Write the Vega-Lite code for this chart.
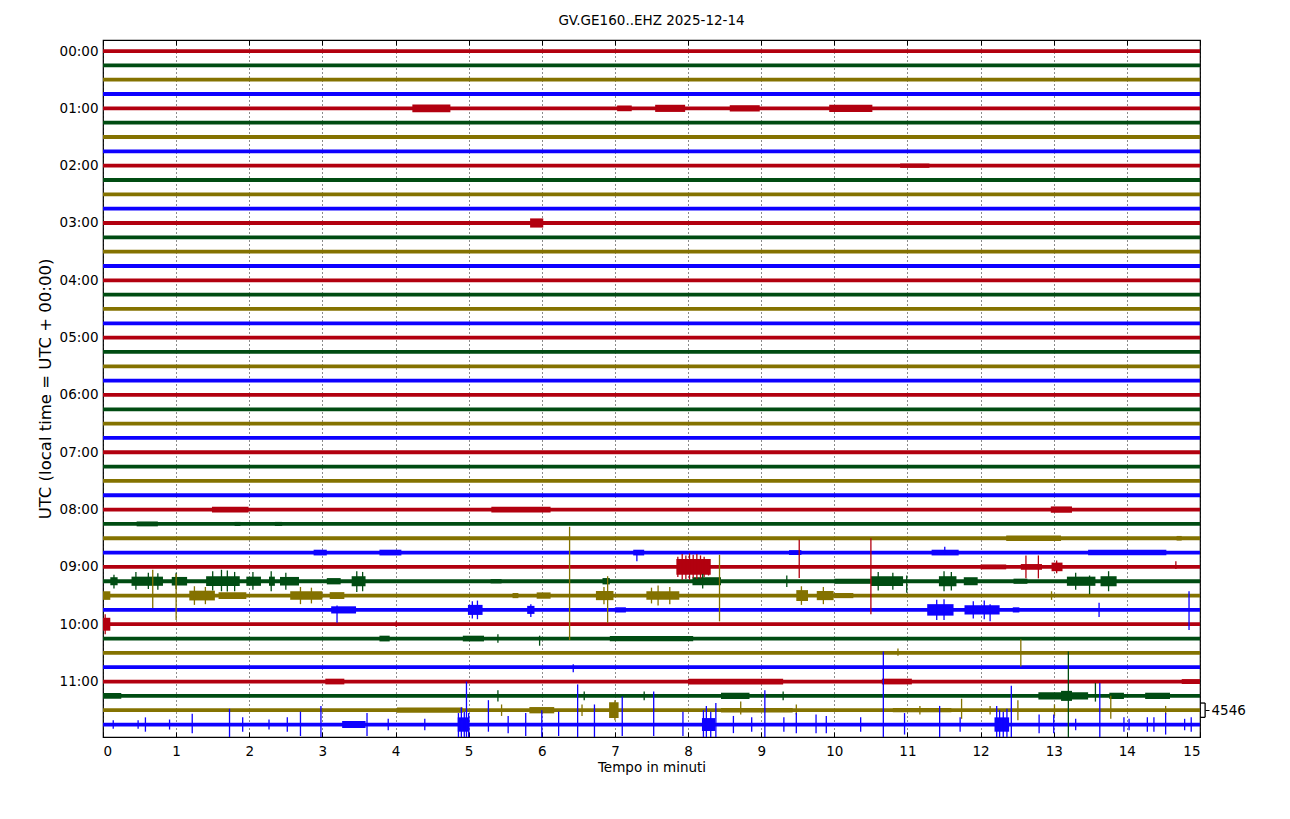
{
  "$schema": "https://vega.github.io/schema/vega-lite/v6.json",
  "width": 1097,
  "height": 697,
  "autosize": {"type": "none"},
  "padding": {"left": 103, "top": 40, "right": 90, "bottom": 82},
  "background": "white",
  "config": {
    "font": "DejaVu Sans",
    "view": {"stroke": "#000000", "strokeWidth": 1.2},
    "axis": {"labelFont": "DejaVu Sans", "titleFont": "DejaVu Sans", "labelColor": "#000", "titleColor": "#000", "tickColor": "#000", "domain": false, "titleFontWeight": "normal"}
  },
  "title": {"text": "GV.GE160..EHZ 2025-12-14", "fontSize": 13.5, "fontWeight": "normal", "font": "DejaVu Sans", "baseline": "bottom", "offset": 12, "dy": 14, "anchor": "middle", "color": "#000"},
  "datasets": {
    "base": [
      {"t":0,"k":"r"},{"t":1,"k":"g"},{"t":2,"k":"o"},{"t":3,"k":"b"},
      {"t":4,"k":"r"},{"t":5,"k":"g"},{"t":6,"k":"o"},{"t":7,"k":"b"},
      {"t":8,"k":"r"},{"t":9,"k":"g"},{"t":10,"k":"o"},{"t":11,"k":"b"},
      {"t":12,"k":"r"},{"t":13,"k":"g"},{"t":14,"k":"o"},{"t":15,"k":"b"},
      {"t":16,"k":"r"},{"t":17,"k":"g"},{"t":18,"k":"o"},{"t":19,"k":"b"},
      {"t":20,"k":"r"},{"t":21,"k":"g"},{"t":22,"k":"o"},{"t":23,"k":"b"},
      {"t":24,"k":"r"},{"t":25,"k":"g"},{"t":26,"k":"o"},{"t":27,"k":"b"},
      {"t":28,"k":"r"},{"t":29,"k":"g"},{"t":30,"k":"o"},{"t":31,"k":"b"},
      {"t":32,"k":"r"},{"t":33,"k":"g"},{"t":34,"k":"o"},{"t":35,"k":"b"},
      {"t":36,"k":"r"},{"t":37,"k":"g"},{"t":38,"k":"o"},{"t":39,"k":"b"},
      {"t":40,"k":"r"},{"t":41,"k":"g"},{"t":42,"k":"o"},{"t":43,"k":"b"},
      {"t":44,"k":"r"},{"t":45,"k":"g"},{"t":46,"k":"o"},{"t":47,"k":"b"}
    ],
    "bands": [
      {"k":"r","x1":4.23,"x2":4.75,"y1":3.73,"y2":4.27},
      {"k":"r","x1":7.03,"x2":7.23,"y1":3.8,"y2":4.2},
      {"k":"r","x1":7.55,"x2":7.96,"y1":3.75,"y2":4.25},
      {"k":"r","x1":8.57,"x2":8.98,"y1":3.78,"y2":4.22},
      {"k":"r","x1":9.93,"x2":10.52,"y1":3.75,"y2":4.25},
      {"k":"r","x1":10.9,"x2":11.3,"y1":7.85,"y2":8.15},
      {"k":"r","x1":5.84,"x2":6.02,"y1":11.68,"y2":12.32},
      {"k":"r","x1":1.49,"x2":1.99,"y1":31.8,"y2":32.2},
      {"k":"r","x1":5.31,"x2":6.12,"y1":31.8,"y2":32.2},
      {"k":"r","x1":12.96,"x2":13.25,"y1":31.78,"y2":32.22},
      {"k":"g","x1":0.46,"x2":0.75,"y1":32.83,"y2":33.17},
      {"k":"g","x1":1.8,"x2":1.88,"y1":32.86,"y2":33.14},
      {"k":"g","x1":2.35,"x2":2.45,"y1":32.86,"y2":33.14},
      {"k":"o","x1":12.35,"x2":13.1,"y1":33.81,"y2":34.19},
      {"k":"o","x1":14.68,"x2":14.75,"y1":33.84,"y2":34.16},
      {"k":"b","x1":2.88,"x2":3.06,"y1":34.8,"y2":35.2},
      {"k":"b","x1":3.78,"x2":4.08,"y1":34.8,"y2":35.2},
      {"k":"b","x1":7.25,"x2":7.4,"y1":34.8,"y2":35.2},
      {"k":"b","x1":9.38,"x2":9.55,"y1":34.83,"y2":35.17},
      {"k":"b","x1":11.33,"x2":11.7,"y1":34.8,"y2":35.2},
      {"k":"b","x1":13.47,"x2":14.54,"y1":34.81,"y2":35.19},
      {"k":"r","x1":7.84,"x2":8.31,"y1":35.45,"y2":36.55},
      {"k":"r","x1":12.0,"x2":12.35,"y1":35.83,"y2":36.17},
      {"k":"r","x1":12.55,"x2":12.84,"y1":35.8,"y2":36.2},
      {"k":"r","x1":12.97,"x2":13.12,"y1":35.7,"y2":36.3},
      {"k":"g","x1":0.1,"x2":0.2,"y1":36.72,"y2":37.28},
      {"k":"g","x1":0.39,"x2":0.82,"y1":36.68,"y2":37.32},
      {"k":"g","x1":0.94,"x2":1.15,"y1":36.7,"y2":37.3},
      {"k":"g","x1":1.41,"x2":1.87,"y1":36.66,"y2":37.34},
      {"k":"g","x1":1.96,"x2":2.16,"y1":36.68,"y2":37.32},
      {"k":"g","x1":2.27,"x2":2.35,"y1":36.68,"y2":37.32},
      {"k":"g","x1":2.42,"x2":2.68,"y1":36.7,"y2":37.3},
      {"k":"g","x1":3.06,"x2":3.25,"y1":36.78,"y2":37.22},
      {"k":"g","x1":3.4,"x2":3.59,"y1":36.65,"y2":37.35},
      {"k":"g","x1":5.3,"x2":5.45,"y1":36.85,"y2":37.15},
      {"k":"g","x1":6.83,"x2":6.93,"y1":36.78,"y2":37.22},
      {"k":"g","x1":8.06,"x2":8.45,"y1":36.72,"y2":37.28},
      {"k":"g","x1":10.0,"x2":10.5,"y1":36.82,"y2":37.18},
      {"k":"g","x1":10.5,"x2":10.94,"y1":36.66,"y2":37.34},
      {"k":"g","x1":11.43,"x2":11.67,"y1":36.65,"y2":37.35},
      {"k":"g","x1":11.77,"x2":11.96,"y1":36.72,"y2":37.28},
      {"k":"g","x1":12.45,"x2":12.64,"y1":36.82,"y2":37.18},
      {"k":"g","x1":13.18,"x2":13.57,"y1":36.68,"y2":37.32},
      {"k":"g","x1":13.64,"x2":13.86,"y1":36.65,"y2":37.35},
      {"k":"o","x1":0.0,"x2":0.1,"y1":37.7,"y2":38.3},
      {"k":"o","x1":1.18,"x2":1.53,"y1":37.66,"y2":38.34},
      {"k":"o","x1":1.58,"x2":1.96,"y1":37.76,"y2":38.24},
      {"k":"o","x1":2.56,"x2":3.0,"y1":37.7,"y2":38.3},
      {"k":"o","x1":3.1,"x2":3.3,"y1":37.76,"y2":38.24},
      {"k":"o","x1":5.6,"x2":5.68,"y1":37.82,"y2":38.18},
      {"k":"o","x1":5.93,"x2":6.12,"y1":37.78,"y2":38.22},
      {"k":"o","x1":6.74,"x2":6.98,"y1":37.68,"y2":38.32},
      {"k":"o","x1":7.43,"x2":7.88,"y1":37.7,"y2":38.3},
      {"k":"o","x1":9.48,"x2":9.64,"y1":37.62,"y2":38.38},
      {"k":"o","x1":9.76,"x2":9.99,"y1":37.68,"y2":38.32},
      {"k":"o","x1":9.99,"x2":10.26,"y1":37.82,"y2":38.18},
      {"k":"b","x1":3.12,"x2":3.46,"y1":38.75,"y2":39.25},
      {"k":"b","x1":4.99,"x2":5.19,"y1":38.65,"y2":39.35},
      {"k":"b","x1":5.8,"x2":5.9,"y1":38.72,"y2":39.28},
      {"k":"b","x1":7.0,"x2":7.15,"y1":38.82,"y2":39.18},
      {"k":"b","x1":11.27,"x2":11.63,"y1":38.6,"y2":39.4},
      {"k":"b","x1":11.78,"x2":12.26,"y1":38.68,"y2":39.32},
      {"k":"b","x1":12.44,"x2":12.53,"y1":38.82,"y2":39.18},
      {"k":"r","x1":0.0,"x2":0.1,"y1":39.55,"y2":40.45},
      {"k":"g","x1":3.78,"x2":3.92,"y1":40.8,"y2":41.2},
      {"k":"g","x1":4.92,"x2":5.21,"y1":40.8,"y2":41.2},
      {"k":"g","x1":6.93,"x2":8.07,"y1":40.82,"y2":41.18},
      {"k":"r","x1":3.04,"x2":3.3,"y1":43.8,"y2":44.2},
      {"k":"r","x1":8.0,"x2":9.3,"y1":43.8,"y2":44.2},
      {"k":"r","x1":10.65,"x2":11.06,"y1":43.8,"y2":44.2},
      {"k":"r","x1":14.75,"x2":15.0,"y1":43.83,"y2":44.17},
      {"k":"g","x1":0.0,"x2":0.25,"y1":44.8,"y2":45.2},
      {"k":"g","x1":8.45,"x2":8.84,"y1":44.78,"y2":45.22},
      {"k":"g","x1":12.79,"x2":13.47,"y1":44.75,"y2":45.25},
      {"k":"g","x1":13.1,"x2":13.25,"y1":44.65,"y2":45.35},
      {"k":"g","x1":13.76,"x2":13.96,"y1":44.78,"y2":45.22},
      {"k":"g","x1":14.25,"x2":14.59,"y1":44.78,"y2":45.22},
      {"k":"o","x1":4.02,"x2":4.92,"y1":45.82,"y2":46.18},
      {"k":"o","x1":5.83,"x2":6.17,"y1":45.78,"y2":46.22},
      {"k":"o","x1":6.92,"x2":7.05,"y1":45.45,"y2":46.55},
      {"k":"o","x1":8.45,"x2":9.43,"y1":45.84,"y2":46.16},
      {"k":"o","x1":10.8,"x2":11.6,"y1":45.85,"y2":46.15},
      {"k":"b","x1":3.27,"x2":3.59,"y1":46.75,"y2":47.25},
      {"k":"b","x1":4.85,"x2":5.01,"y1":46.5,"y2":47.5},
      {"k":"b","x1":8.19,"x2":8.37,"y1":46.55,"y2":47.45},
      {"k":"b","x1":12.19,"x2":12.39,"y1":46.5,"y2":47.5}
    ],
    "spikes": [
      {"k":"b","x":7.3,"y1":34.9,"y2":35.6},
      {"k":"b","x":11.51,"y1":34.6,"y2":35.15},
      {"k":"r","x":7.86,"y1":35.3,"y2":36.7},
      {"k":"r","x":7.92,"y1":35.1,"y2":36.9},
      {"k":"r","x":7.97,"y1":35.2,"y2":36.85},
      {"k":"r","x":8.02,"y1":35.05,"y2":36.9},
      {"k":"r","x":8.07,"y1":35.15,"y2":36.8},
      {"k":"r","x":8.12,"y1":35.1,"y2":36.85},
      {"k":"r","x":8.17,"y1":35.2,"y2":36.8},
      {"k":"r","x":8.22,"y1":35.3,"y2":36.7},
      {"k":"r","x":8.28,"y1":35.45,"y2":36.6},
      {"k":"r","x":9.52,"y1":34.1,"y2":36.77},
      {"k":"r","x":10.5,"y1":34.0,"y2":39.3},
      {"k":"r","x":12.62,"y1":35.2,"y2":36.8},
      {"k":"r","x":12.79,"y1":35.2,"y2":36.8},
      {"k":"r","x":13.04,"y1":35.55,"y2":36.45},
      {"k":"r","x":14.67,"y1":35.6,"y2":36.15},
      {"k":"g","x":0.15,"y1":36.55,"y2":37.5},
      {"k":"g","x":0.45,"y1":36.35,"y2":37.6},
      {"k":"g","x":0.62,"y1":36.4,"y2":37.55},
      {"k":"g","x":0.75,"y1":36.45,"y2":37.6},
      {"k":"g","x":1.0,"y1":36.4,"y2":37.55},
      {"k":"g","x":1.5,"y1":36.3,"y2":37.65},
      {"k":"g","x":1.62,"y1":36.2,"y2":37.7},
      {"k":"g","x":1.7,"y1":36.25,"y2":37.72},
      {"k":"g","x":1.8,"y1":36.35,"y2":37.7},
      {"k":"g","x":2.05,"y1":36.35,"y2":37.6},
      {"k":"g","x":2.3,"y1":36.3,"y2":37.7},
      {"k":"g","x":2.5,"y1":36.4,"y2":37.6},
      {"k":"g","x":3.47,"y1":36.3,"y2":37.75},
      {"k":"g","x":3.55,"y1":36.35,"y2":37.7},
      {"k":"g","x":8.2,"y1":36.5,"y2":37.5},
      {"k":"g","x":9.35,"y1":36.6,"y2":37.4},
      {"k":"g","x":10.6,"y1":36.35,"y2":37.65},
      {"k":"g","x":10.8,"y1":36.4,"y2":37.6},
      {"k":"g","x":10.99,"y1":36.6,"y2":37.8},
      {"k":"g","x":11.5,"y1":36.3,"y2":37.7},
      {"k":"g","x":11.6,"y1":36.35,"y2":37.65},
      {"k":"g","x":13.3,"y1":36.4,"y2":37.6},
      {"k":"g","x":13.49,"y1":36.6,"y2":37.9},
      {"k":"g","x":13.75,"y1":36.3,"y2":37.7},
      {"k":"o","x":0.68,"y1":36.2,"y2":38.86},
      {"k":"o","x":1.0,"y1":36.5,"y2":39.7},
      {"k":"o","x":1.25,"y1":37.35,"y2":38.65},
      {"k":"o","x":1.4,"y1":37.4,"y2":38.6},
      {"k":"o","x":2.7,"y1":37.4,"y2":38.6},
      {"k":"o","x":2.85,"y1":37.45,"y2":38.55},
      {"k":"o","x":6.38,"y1":33.2,"y2":41.1},
      {"k":"o","x":6.85,"y1":37.4,"y2":38.6},
      {"k":"o","x":6.9,"y1":36.65,"y2":39.9},
      {"k":"o","x":7.5,"y1":37.45,"y2":38.55},
      {"k":"o","x":7.59,"y1":37.3,"y2":38.7},
      {"k":"o","x":7.75,"y1":37.4,"y2":38.6},
      {"k":"o","x":8.43,"y1":35.15,"y2":39.8},
      {"k":"o","x":9.55,"y1":37.35,"y2":38.65},
      {"k":"o","x":9.85,"y1":37.4,"y2":38.6},
      {"k":"o","x":12.97,"y1":37.7,"y2":38.3},
      {"k":"b","x":3.2,"y1":38.7,"y2":39.9},
      {"k":"b","x":5.05,"y1":38.4,"y2":39.6},
      {"k":"b","x":5.12,"y1":38.35,"y2":39.65},
      {"k":"b","x":5.85,"y1":38.6,"y2":39.5},
      {"k":"b","x":11.4,"y1":38.3,"y2":39.7},
      {"k":"b","x":11.5,"y1":38.25,"y2":39.7},
      {"k":"b","x":11.9,"y1":38.4,"y2":39.6},
      {"k":"b","x":12.05,"y1":38.35,"y2":39.65},
      {"k":"b","x":12.13,"y1":38.6,"y2":39.8},
      {"k":"b","x":14.85,"y1":37.7,"y2":40.4},
      {"k":"b","x":13.62,"y1":38.5,"y2":39.5},
      {"k":"r","x":0.03,"y1":39.3,"y2":40.7},
      {"k":"r","x":4.01,"y1":39.8,"y2":40.2},
      {"k":"g","x":5.97,"y1":40.8,"y2":41.5},
      {"k":"g","x":5.4,"y1":40.7,"y2":41.3},
      {"k":"o","x":12.55,"y1":41.05,"y2":42.95},
      {"k":"o","x":10.87,"y1":41.7,"y2":42.2},
      {"k":"b","x":6.43,"y1":42.8,"y2":43.35},
      {"k":"b","x":10.67,"y1":41.9,"y2":47.87},
      {"k":"g","x":13.2,"y1":41.9,"y2":47.87},
      {"k":"g","x":5.4,"y1":44.6,"y2":45.4},
      {"k":"g","x":6.58,"y1":44.7,"y2":45.3},
      {"k":"g","x":7.4,"y1":44.7,"y2":45.3},
      {"k":"g","x":9.3,"y1":44.7,"y2":45.3},
      {"k":"g","x":13.57,"y1":44.1,"y2":45.4},
      {"k":"o","x":7.0,"y1":45.3,"y2":46.7},
      {"k":"o","x":8.72,"y1":45.4,"y2":46.3},
      {"k":"o","x":11.74,"y1":45.2,"y2":46.6},
      {"k":"o","x":12.51,"y1":45.3,"y2":46.7},
      {"k":"o","x":13.01,"y1":45.6,"y2":46.4},
      {"k":"o","x":13.78,"y1":45.0,"y2":46.6},
      {"k":"o","x":14.53,"y1":45.7,"y2":46.3},
      {"k":"o","x":11.17,"y1":45.7,"y2":46.3},
      {"k":"o","x":12.13,"y1":45.7,"y2":46.3},
      {"k":"o","x":9.48,"y1":45.6,"y2":46.3},
      {"k":"o","x":5.45,"y1":45.6,"y2":46.4},
      {"k":"o","x":6.55,"y1":45.6,"y2":46.4},
      {"k":"b","x":0.14,"y1":46.7,"y2":47.3},
      {"k":"b","x":0.48,"y1":46.7,"y2":47.3},
      {"k":"b","x":0.58,"y1":46.5,"y2":47.5},
      {"k":"b","x":0.91,"y1":46.65,"y2":47.35},
      {"k":"b","x":1.22,"y1":46.25,"y2":47.6},
      {"k":"b","x":1.73,"y1":45.9,"y2":47.87},
      {"k":"b","x":1.91,"y1":46.5,"y2":47.5},
      {"k":"b","x":2.27,"y1":46.65,"y2":47.35},
      {"k":"b","x":2.52,"y1":46.5,"y2":47.5},
      {"k":"b","x":2.7,"y1":46.1,"y2":47.8},
      {"k":"b","x":2.98,"y1":45.7,"y2":47.87},
      {"k":"b","x":3.61,"y1":46.2,"y2":47.8},
      {"k":"b","x":3.9,"y1":46.6,"y2":47.4},
      {"k":"b","x":4.4,"y1":46.6,"y2":47.4},
      {"k":"b","x":4.86,"y1":46.2,"y2":47.87},
      {"k":"b","x":4.9,"y1":45.8,"y2":47.87},
      {"k":"b","x":4.94,"y1":46.1,"y2":47.87},
      {"k":"b","x":4.97,"y1":44.0,"y2":47.87},
      {"k":"b","x":5.0,"y1":46.2,"y2":47.87},
      {"k":"b","x":5.27,"y1":45.3,"y2":47.5},
      {"k":"b","x":5.54,"y1":46.4,"y2":47.6},
      {"k":"b","x":5.78,"y1":46.2,"y2":47.8},
      {"k":"b","x":6.0,"y1":46.0,"y2":47.87},
      {"k":"b","x":6.23,"y1":46.1,"y2":47.8},
      {"k":"b","x":6.49,"y1":44.2,"y2":47.87},
      {"k":"b","x":6.72,"y1":45.6,"y2":47.87},
      {"k":"b","x":7.1,"y1":45.05,"y2":47.8},
      {"k":"b","x":7.53,"y1":44.7,"y2":47.8},
      {"k":"b","x":7.93,"y1":46.1,"y2":47.8},
      {"k":"b","x":8.21,"y1":46.0,"y2":47.87},
      {"k":"b","x":8.25,"y1":45.7,"y2":47.87},
      {"k":"b","x":8.31,"y1":46.1,"y2":47.87},
      {"k":"b","x":8.38,"y1":45.5,"y2":47.87},
      {"k":"b","x":8.62,"y1":46.4,"y2":47.6},
      {"k":"b","x":8.87,"y1":46.5,"y2":47.5},
      {"k":"b","x":9.05,"y1":44.6,"y2":47.87},
      {"k":"b","x":9.31,"y1":46.5,"y2":47.5},
      {"k":"b","x":9.48,"y1":46.2,"y2":47.6},
      {"k":"b","x":9.75,"y1":46.3,"y2":47.6},
      {"k":"b","x":9.89,"y1":46.4,"y2":47.6},
      {"k":"b","x":10.36,"y1":46.5,"y2":47.5},
      {"k":"b","x":10.96,"y1":46.2,"y2":47.7},
      {"k":"b","x":11.44,"y1":45.7,"y2":47.87},
      {"k":"b","x":11.72,"y1":46.5,"y2":47.5},
      {"k":"b","x":12.22,"y1":45.7,"y2":47.87},
      {"k":"b","x":12.26,"y1":46.0,"y2":47.87},
      {"k":"b","x":12.31,"y1":46.1,"y2":47.87},
      {"k":"b","x":12.36,"y1":45.9,"y2":47.87},
      {"k":"b","x":12.42,"y1":44.3,"y2":47.87},
      {"k":"b","x":12.8,"y1":46.3,"y2":47.6},
      {"k":"b","x":13.0,"y1":46.3,"y2":47.6},
      {"k":"b","x":13.3,"y1":46.6,"y2":47.4},
      {"k":"b","x":13.63,"y1":44.1,"y2":47.87},
      {"k":"b","x":13.96,"y1":46.5,"y2":47.5},
      {"k":"b","x":14.03,"y1":46.6,"y2":47.4},
      {"k":"b","x":14.28,"y1":46.5,"y2":47.5},
      {"k":"b","x":14.37,"y1":46.5,"y2":47.5},
      {"k":"b","x":14.53,"y1":46.2,"y2":47.7},
      {"k":"b","x":14.79,"y1":46.6,"y2":47.4},
      {"k":"b","x":14.88,"y1":46.5,"y2":47.5}
    ],
    "bracket": [
      {"x1":15.0,"x2":15.07,"y1":45.5,"y2":45.5},
      {"x1":15.0,"x2":15.07,"y1":46.5,"y2":46.5},
      {"x1":15.07,"x2":15.07,"y1":45.5,"y2":46.5}
    ]
  },
  "resolve": {"axis": {"x": "independent", "y": "independent"}},
  "layer": [
    {
      "data": {"name": "base"},
      "mark": {"type": "rule", "strokeWidth": 3.8},
      "encoding": {
        "x": {"datum": 0, "type": "quantitative",
              "scale": {"domain": [0, 15], "nice": false, "zero": false},
              "axis": {"orient": "bottom", "values": [0,1,2,3,4,5,6,7,8,9,10,11,12,13,14,15], "format": "d",
                       "tickSize": -5, "labelPadding": 12, "labelFontSize": 13.5,
                       "grid": true, "gridColor": "#000", "gridDash": [1, 3], "gridOpacity": 0.9, "gridWidth": 1,
                       "title": "Tempo in minuti", "titleFontSize": 13.5, "titlePadding": 3}},
        "x2": {"datum": 15},
        "y": {"field": "t", "type": "quantitative",
              "scale": {"domain": [-0.77, 47.87], "reverse": true, "nice": false, "zero": false},
              "axis": {"orient": "left", "values": [0,4,8,12,16,20,24,28,32,36,40,44],
                       "labelExpr": "(datum.value < 40 ? '0' : '') + floor(datum.value / 4) + ':00'",
                       "tickSize": -5, "labelPadding": 10, "labelFontSize": 13.5, "grid": false,
                       "title": "UTC (local time = UTC + 00:00)", "titleFontSize": 16.5, "titlePadding": 6}},
        "color": {"field": "k", "type": "nominal",
                  "scale": {"domain": ["r","g","o","b"], "range": ["#B2000F","#004C12","#847200","#0E01FF"]},
                  "legend": null}
      }
    },
    {
      "data": {"name": "bands"},
      "mark": {"type": "rect"},
      "encoding": {
        "x": {"field": "x1", "type": "quantitative", "axis": null},
        "x2": {"field": "x2"},
        "y": {"field": "y1", "type": "quantitative", "axis": null},
        "y2": {"field": "y2"},
        "color": {"field": "k", "type": "nominal", "legend": null}
      }
    },
    {
      "data": {"name": "spikes"},
      "mark": {"type": "rule", "strokeWidth": 1.3},
      "encoding": {
        "x": {"field": "x", "type": "quantitative", "axis": null},
        "y": {"field": "y1", "type": "quantitative", "axis": null},
        "y2": {"field": "y2"},
        "color": {"field": "k", "type": "nominal", "legend": null}
      }
    },
    {
      "data": {"name": "bracket"},
      "mark": {"type": "rule", "strokeWidth": 1.3, "color": "#000"},
      "encoding": {
        "x": {"field": "x1", "type": "quantitative", "axis": null},
        "x2": {"field": "x2"},
        "y": {"field": "y1", "type": "quantitative", "axis": null},
        "y2": {"field": "y2"}
      }
    },
    {
      "data": {"name": "base"},
      "mark": {"type": "point", "opacity": 0},
      "encoding": {
        "x": {"datum": 0, "type": "quantitative",
              "axis": {"orient": "top", "values": [0,1,2,3,4,5,6,7,8,9,10,11,12,13,14,15], "labels": false,
                       "tickSize": -5, "grid": false, "title": null}},
        "y": {"field": "t", "type": "quantitative",
              "axis": {"orient": "right", "values": [46], "labelExpr": "'4546'", "offset": 5,
                       "tickSize": 4, "labelPadding": 2, "labelFontSize": 13.5, "grid": false, "title": null}}
      }
    }
  ]
}
